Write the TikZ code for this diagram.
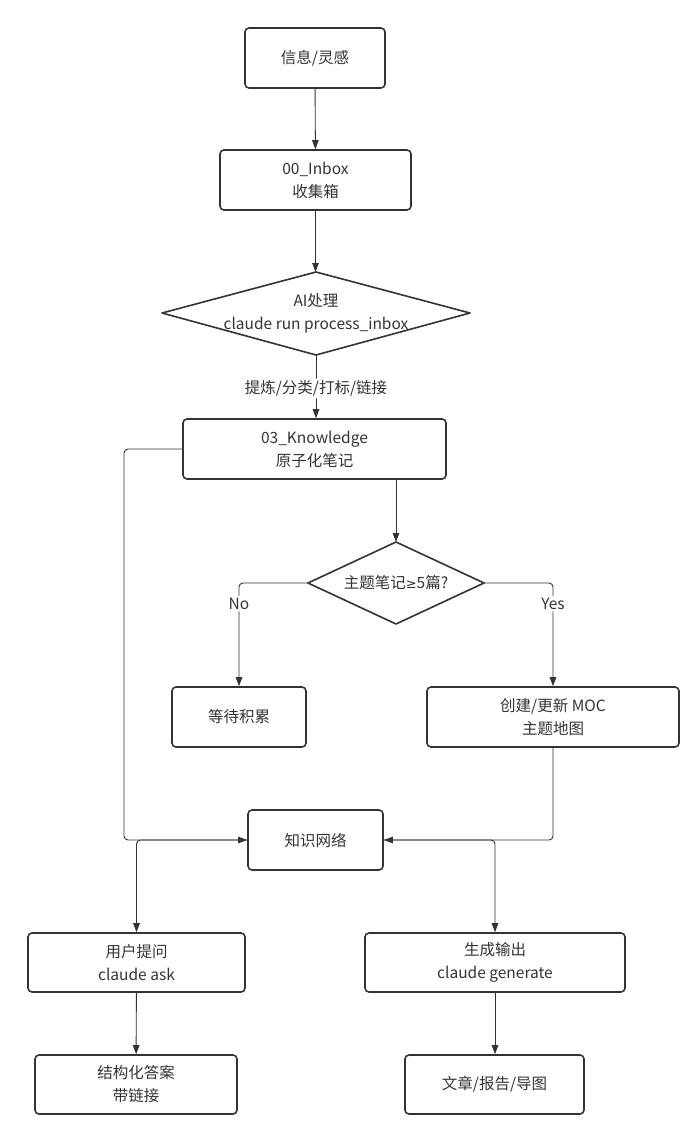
\documentclass[tikz,border=0pt]{standalone}
\usepackage{fontspec}
\setmainfont{Noto Sans CJK SC}
\newfontfamily\symfont{DejaVu Sans}
\usetikzlibrary{arrows.meta,shapes.geometric}
\definecolor{ln}{HTML}{333333}
\begin{document}
\begin{tikzpicture}[x=1pt,y=-1pt,
  font=\fontsize{15.5}{23}\selectfont,
  every node/.style={text=ln},
  box/.style={draw=ln,line width=1.6pt,rounded corners=4pt,align=center,inner sep=0pt},
  conn/.style={draw=ln,line width=0.9pt,rounded corners=4pt,-{Triangle[length=9pt,width=6.5pt]}},
  lbl/.style={fill=white,inner sep=2pt}]
\useasboundingbox (0,0) rectangle (698,1143);
\node[box,minimum width=140pt,minimum height=60pt] (info) at (315,58) {信息/灵感};
\node[box,minimum width=191pt,minimum height=60pt] (inbox) at (315.5,180) {00\_Inbox\\收集箱};
\path[draw=ln,line width=1.6pt,line join=round] (162,313) -- (316,272) -- (470,313) -- (316,355) -- cycle;
\node[align=center] (ai) at (316,313) {AI处理\\claude run process\_inbox};
\coordinate (aiT) at (316,272);
\coordinate (aiB) at (316,355);
\node[box,minimum width=263pt,minimum height=60pt] (know) at (314.5,449) {03\_Knowledge\\原子化笔记};
\path[draw=ln,line width=1.6pt,line join=round] (308,583) -- (396,542) -- (484,583) -- (396,624) -- cycle;
\node (q) at (396,583) {主题笔记{\symfont\fontsize{13}{15}\selectfont ≥}5篇?};
\coordinate (qT) at (396,542);
\coordinate (qL) at (308,583);
\coordinate (qR) at (484,583);
\node[box,minimum width=134pt,minimum height=60pt] (wait) at (239,717) {等待积累};
\node[box,minimum width=252pt,minimum height=60pt] (moc) at (553,717) {创建/更新 MOC\\主题地图};
\node[box,minimum width=135pt,minimum height=60pt] (net) at (315.5,840) {知识网络};
\node[box,minimum width=217pt,minimum height=59pt] (ask) at (136.5,962.5) {用户提问\\claude ask};
\node[box,minimum width=260pt,minimum height=59pt] (gen) at (495,962.5) {生成输出\\claude generate};
\node[box,minimum width=202pt,minimum height=59pt] (ans) at (136,1084.5) {结构化答案\\带链接};
\node[box,minimum width=179pt,minimum height=59pt] (art) at (494.5,1084.5) {文章/报告/导图};
\draw[conn] (info) -- (inbox);
\draw[conn] (inbox.south) -- (inbox.south |- aiT);
\draw[conn] (aiB) -- node[lbl,pos=0.53] {提炼/分类/打标/链接} (aiB |- know.north);
\draw[conn] (know.south -| qT) -- (qT);
\draw[conn] (qL) -| node[lbl,pos=0.6] {No} (wait.north);
\draw[conn] (qR) -| node[lbl,pos=0.6] {Yes} (moc.north);
\draw[conn] (know.west) -- (124,449) -- (124,840) -- (net.west);
\draw[conn] (moc.south) |- (net.east);
\draw[conn] (net.west) -| (ask.north);
\draw[conn] (net.east) -| (gen.north);
\draw[conn] (ask) -- (ans);
\draw[conn] (gen.south) -- (gen.south |- art.north);
\end{tikzpicture}
\end{document}
